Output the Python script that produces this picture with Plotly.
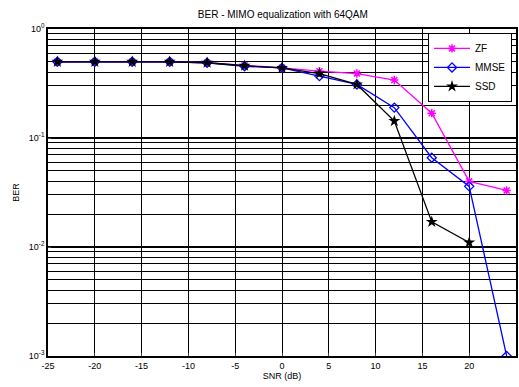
import plotly.graph_objects as go

# SNR points (dB) and bit error rates per equalizer
snr_db = [-24, -20, -16, -12, -8, -4, 0, 4, 8, 12, 16, 20, 24]
ber_zf = [0.50, 0.50, 0.50, 0.50, 0.49, 0.465, 0.44, 0.41, 0.39, 0.34, 0.169, 0.040, 0.033]
ber_mmse = [0.50, 0.50, 0.50, 0.50, 0.49, 0.455, 0.44, 0.37, 0.31, 0.19, 0.066, 0.036, 0.001]
ber_ssd = [0.50, 0.50, 0.50, 0.50, 0.49, 0.46, 0.44, 0.39, 0.31, 0.143, 0.017, 0.011]
snr_ssd = snr_db[:len(ber_ssd)]

x_ticks = [-25, -20, -15, -10, -5, 0, 5, 10, 15, 20, 25]
x_tick_text = [str(v) for v in x_ticks]
y_major = [1, 0.1, 0.01, 0.001]
y_major_text = ["10<sup>0</sup>", "10<sup>-1</sup>", "10<sup>-2</sup>", "10<sup>-3</sup>"]
y_minor = [m * d for d in (0.001, 0.01, 0.1) for m in range(2, 10)]

fig = go.Figure()
fig.add_trace(go.Scatter(
    x=snr_db, y=ber_zf, name="ZF", mode="lines+markers",
    line=dict(color="#ff00ff", width=1.3),
    marker=dict(symbol="asterisk-open", size=7, color="#ff00ff",
                line=dict(color="#ff00ff", width=1.5)),
))
fig.add_trace(go.Scatter(
    x=snr_db, y=ber_mmse, name="MMSE", mode="lines+markers",
    line=dict(color="#0000ff", width=1.3),
    marker=dict(symbol="diamond-open", size=7, color="#0000ff",
                line=dict(color="#0000ff", width=1.3)),
))
fig.add_trace(go.Scatter(
    x=snr_ssd, y=ber_ssd, name="SSD", mode="lines+markers",
    line=dict(color="black", width=1.3),
    marker=dict(symbol="star", size=9, color="black"),
))

fig.update_layout(
    width=519, height=387,
    margin=dict(l=48, r=1, t=29, b=31),
    paper_bgcolor="white", plot_bgcolor="white",
    font=dict(family="Arial, Liberation Sans, sans-serif", size=9, color="black"),
    title=dict(text="BER - MIMO equalization with 64QAM", x=0.545, xanchor="center",
               y=0.962, yanchor="middle", font=dict(size=10)),
    showlegend=True,
    legend=dict(x=0.812, y=0.988, xanchor="left", yanchor="top",
                bgcolor="white", bordercolor="black", borderwidth=1,
                font=dict(size=10), itemwidth=36, tracegroupgap=0),
)
fig.update_xaxes(
    range=[-25, 25], tickvals=x_ticks, ticktext=x_tick_text,
    ticks="inside", ticklen=3,
    showgrid=True, gridcolor="black", gridwidth=1.3,
    showline=True, linecolor="black", linewidth=1.5, mirror=True,
    zeroline=False, title=dict(text="SNR (dB)", standoff=2, font=dict(size=9)),
)
fig.update_yaxes(
    type="log", range=[-3, 0], tickvals=y_major, ticktext=y_major_text,
    ticks="inside", ticklen=3,
    showgrid=True, gridcolor="black", gridwidth=1.5,
    minor=dict(tickvals=y_minor, showgrid=True, gridcolor="black", gridwidth=1.2),
    showline=True, linecolor="black", linewidth=1.5, mirror=True,
    zeroline=False, title=dict(text="BER", standoff=8, font=dict(size=9)),
)

fig.write_html("out.html")
